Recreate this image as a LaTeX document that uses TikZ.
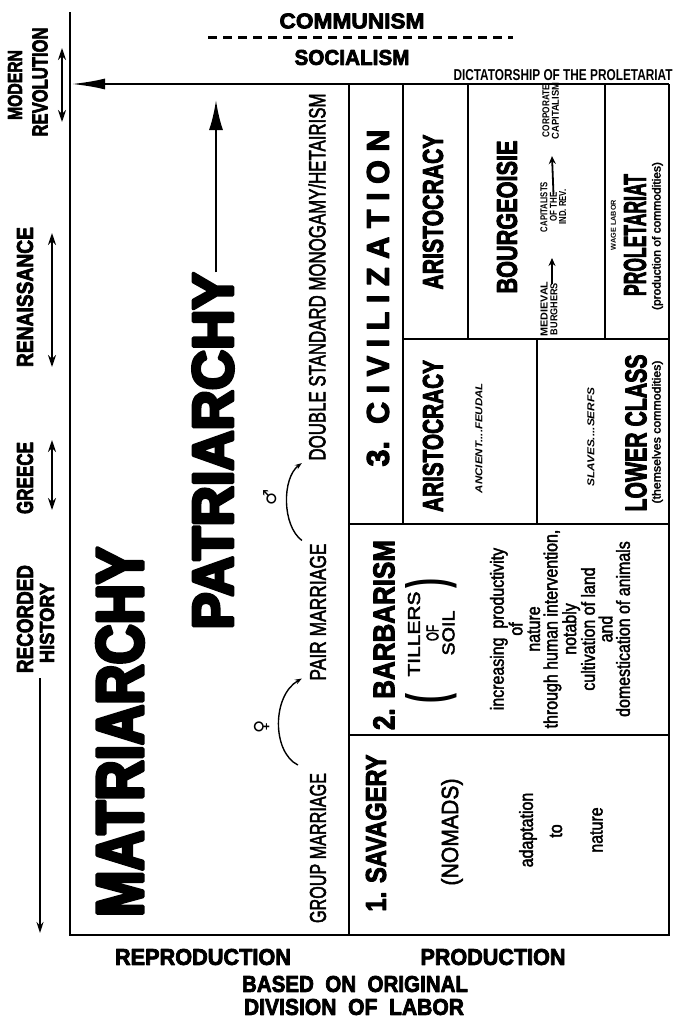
\documentclass[tikz,border=0pt]{standalone}
\usepackage{fontspec}
\setmainfont{Liberation Sans}
\newfontfamily\cnd{Liberation Sans}[FakeStretch=0.84]
\newfontfamily\symf{DejaVu Sans}
\usetikzlibrary{arrows.meta}
\newcommand\rbx[3]{\resizebox{#1pt}{#2pt}{#3}}
\newcommand\thk[2]{\special{pdf:literal direct 1 j #1 w 2 Tr}#2\special{pdf:literal direct 0 Tr 0 j}}
\newcommand\hv[1]{\thk{0.35}{\bfseries #1}}
\newcommand\hvv[1]{\thk{0.6}{\bfseries #1}}
\newcommand\md[1]{\thk{0.25}{#1}}
\newcommand\dl[1]{\thk{0.4}{#1}}
\tikzset{
  lbl/.style={inner sep=0pt, outer sep=0pt, anchor=center},
  vlbl/.style={lbl, rotate=90},
  frame/.style={line width=2.6pt},
  gridln/.style={line width=2pt},
  dblarr/.style={line width=1.6pt, {Stealth[length=12pt,width=8pt]}-{Stealth[length=12pt,width=8pt]}},
  onearr/.style={line width=1.6pt, -{Stealth[length=11pt,width=7pt]}},
  curv/.style={line width=1.4pt, -{Stealth[length=7pt,width=5pt]}},
  smallarr/.style={line width=1.8pt, -{Stealth[length=8pt,width=7pt]}},
  desc/.style={vlbl, font=\cnd\fontsize{19}{17.5}\selectfont, align=center},
}
\begin{document}
\begin{tikzpicture}[x=1pt,y=-1pt]
\useasboundingbox (0,0) rectangle (674,1020);

% ---------- top labels
\node[lbl] (comm) at (352,21) {\rbx{145}{15}{\hv{COMMUNISM}}};
\coordinate (dashL) at (208,37);
\coordinate (dashR) at (513,37);
\draw[line width=3pt, dash pattern=on 9pt off 6pt] (dashL) -- (dashR);
\node[lbl] (soc) at (352,57.5) {\rbx{115}{15}{\hv{SOCIALISM}}};
\node[lbl] (dict) at (563,75.5) {\rbx{219}{11}{\bfseries DICTATORSHIP OF THE PROLETARIAT}};

% ---------- frame and grid
\draw[frame] (70,12) -- (70,935) -- (669,935) -- (669,84);
\coordinate (topR) at (669,84);
\coordinate (topL) at (71,84);
\draw[frame, -{Latex[length=34pt,width=11pt]}] (topR) -- (topL);
\draw[gridln] (349,84) -- (349,935);
\draw[gridln] (403,84) -- (403,524);
\draw[gridln] (349,524) -- (669,524);
\draw[gridln] (349,735) -- (669,735);
\draw[gridln] (403,339) -- (669,339);
\draw[gridln] (468,84) -- (468,339);
\draw[gridln] (605,84) -- (605,339);
\draw[gridln] (537,339) -- (537,524);

% ---------- left time axis
\node[vlbl] (modern) at (15,85) {\rbx{70}{14}{\hv{MODERN}}};
\node[vlbl] (revol) at (40,82) {\rbx{109}{15}{\hv{REVOLUTION}}};
\coordinate (mrA) at (62,48); \coordinate (mrB) at (62,122);
\draw[dblarr] (mrA) -- (mrB);
\node[vlbl] (renai) at (25,297) {\rbx{140}{16}{\hv{RENAISSANCE}}};
\coordinate (rnA) at (52,233); \coordinate (rnB) at (52,367);
\draw[dblarr] (rnA) -- (rnB);
\node[vlbl] (greece) at (25,478) {\rbx{72}{16}{\hv{GREECE}}};
\coordinate (grA) at (52,440); \coordinate (grB) at (52,510);
\draw[dblarr] (grA) -- (grB);
\node[vlbl] (recorded) at (25,619) {\rbx{108}{16}{\hv{RECORDED}}};
\node[vlbl] (history) at (47,623) {\rbx{80}{14}{\hv{HISTORY}}};
\coordinate (rhA) at (40,678); \coordinate (rhB) at (40,933);
\draw[onearr] (rhA) -- (rhB);

% ---------- reproduction
\node[vlbl] (matri) at (120,732) {\rbx{370}{46}{\hvv{MATRIARCHY}}};
\node[vlbl] (patri) at (213,451) {\rbx{357}{40}{\hvv{PATRIARCHY}}};
\coordinate (patTip) at (216,100);
\draw[line width=2.4pt, -{Latex[length=30pt,width=14pt]}] ([xshift=3pt]patri.east) -- (patTip);
\node[vlbl] (gm) at (318,848) {\rbx{150}{16}{\md{GROUP MARRIAGE}}};
\node[vlbl] (pm) at (318,612) {\rbx{137}{16}{\md{PAIR MARRIAGE}}};
\node[vlbl] (ds) at (317,277) {\rbx{367}{17}{\md{DOUBLE STANDARD MONOGAMY/HETAIRISM}}};
\draw[curv] ([shift={(-12,-8)}]gm.north east) .. controls +(-26,-13) and +(-30,17) .. ([shift={(-8,-2)}]pm.north west);
\draw[curv] ([shift={(-8,-3)}]pm.north east) .. controls +(-20,-15) and +(-20,15) .. ([shift={(-6.5,2.5)}]ds.north west);
\node[vlbl, font=\symf\bfseries\fontsize{18}{18}\selectfont] (fem) at (262,727) {♀};
\node[vlbl, font=\symf\bfseries\fontsize{18}{18}\selectfont] (mal) at (270,497) {♂};

% ---------- civilization
\node[vlbl] (civ) at (378,298) {\rbx{337}{22}{\hv{3.\ \ C\ I\ V\ I\ L\ I\ Z\ A\ T\ I\ O\ N}}};
\node[vlbl] (arist1) at (433,212) {\rbx{155}{20}{\hv{ARISTOCRACY}}};
\node[vlbl] (bourg) at (507,217) {\rbx{153}{20}{\hv{BOURGEOISIE}}};
\node[vlbl] (medi) at (544,309) {\rbx{55}{7}{\bfseries MEDIEVAL}};
\node[vlbl] (burg) at (554,309) {\rbx{52}{7}{\bfseries BURGHERS}};
\node[vlbl] (capi) at (544,207) {\rbx{50}{7}{\bfseries CAPITALISTS}};
\node[vlbl] (ofthe) at (553.5,207) {\rbx{29}{7}{\bfseries OF THE}};
\node[vlbl] (indrev) at (562.5,207) {\rbx{35}{7}{\bfseries IND. REV.}};
\node[vlbl] (corp) at (546,111) {\rbx{52}{7}{\bfseries CORPORATE}};
\node[vlbl] (capism) at (555.5,111) {\rbx{57}{7}{\bfseries CAPITALISM}};
\coordinate (a1tip) at (552,258);
\coordinate (a2tip) at (552,156);
\draw[smallarr] ([xshift=-2pt,yshift=-1pt]burg.east) -- (a1tip);
\draw[smallarr] ([yshift=-2pt]ofthe.east) -- (a2tip);
\node[vlbl] (wage) at (613.5,225) {\rbx{50}{5}{\bfseries WAGE LABOR}};
\node[vlbl] (prol) at (635,235) {\rbx{122}{22}{\hv{PROLETARIAT}}};
\node[vlbl] (prodc) at (657.5,236) {\rbx{148}{8.5}{\cnd\md{(production of commodities)}}};
\node[vlbl] (arist2) at (433,436) {\rbx{152}{20}{\hv{ARISTOCRACY}}};
\node[vlbl] (ancient) at (479,438) {\rbx{110}{7}{\bfseries\itshape ANCIENT....FEUDAL}};
\node[vlbl] (slaves) at (591,437) {\rbx{99}{7}{\bfseries\itshape SLAVES....SERFS}};
\node[vlbl] (lower) at (636,433) {\rbx{157}{21}{\hv{LOWER CLASS}}};
\node[vlbl] (themc) at (657.5,432) {\rbx{143}{8.5}{\cnd\md{(themselves commodities)}}};

% ---------- barbarism
\node[vlbl] (barb) at (384,635) {\rbx{190}{21}{\hv{2. BARBARISM}}};
\node[vlbl] (till) at (414,634) {\rbx{85}{12}{\md{TILLERS}}};
\node[vlbl] (tof) at (432.5,633) {\rbx{16}{12}{\md{OF}}};
\node[vlbl] (soil) at (448.5,633) {\rbx{45}{12}{\md{SOIL}}};
\node[vlbl] (lpar) at (431,698) {\rbx{10}{40}{\bfseries (}};
\node[vlbl] (rpar) at (431,583) {\rbx{10}{40}{\bfseries )}};
\node[desc] (bdesc) at (560,629) {\dl{increasing\ \ productivity}\\\dl{of}\\\dl{nature}\\\dl{through human intervention,}\\\dl{notably}\\\dl{cultivation of land}\\\dl{and}\\\dl{domestication of animals}};

% ---------- savagery
\node[vlbl] (sav) at (376,833) {\rbx{157}{20}{\hv{1. SAVAGERY}}};
\node[vlbl] (nom) at (452,832) {\rbx{107}{17}{\md{(NOMADS)}}};
\node[desc] (adap) at (528,830) {\dl{adaptation}};
\node[desc] (sto) at (556,831) {\dl{to}};
\node[desc] (snat) at (596.5,830) {\dl{nature}};

% ---------- bottom labels
\node[lbl] (repro) at (203,957) {\rbx{176}{16}{\hv{REPRODUCTION}}};
\node[lbl] (prod) at (493,957) {\rbx{145}{16}{\hv{PRODUCTION}}};
\node[lbl] (based) at (355,984) {\rbx{226}{16}{\hv{BASED\ \ ON\ \ ORIGINAL}}};
\node[lbl] (divis) at (354,1007) {\rbx{220}{16}{\hv{DIVISION\ \ OF\ \ LABOR}}};
\end{tikzpicture}
\end{document}
